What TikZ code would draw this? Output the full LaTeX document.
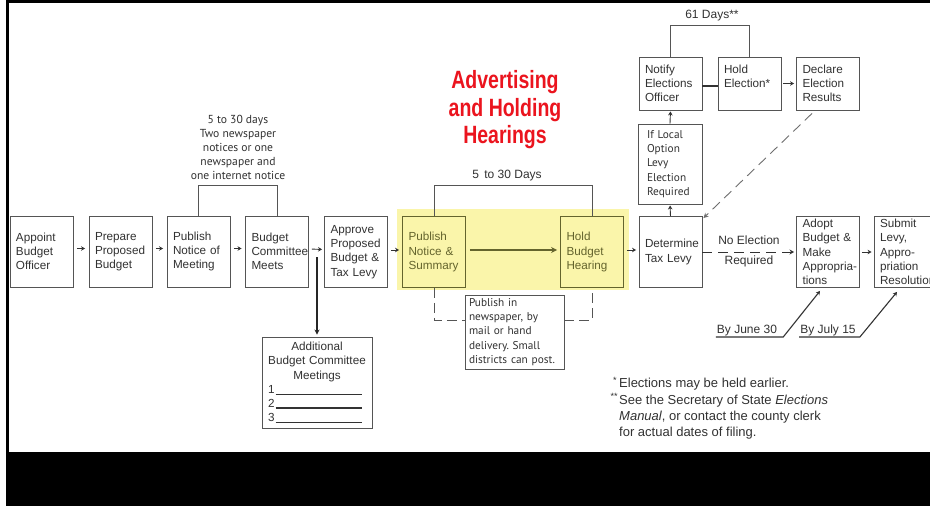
\documentclass[tikz,border=0pt]{standalone}
\usepackage{fontspec}
\setmainfont{Liberation Sans}
\newfontfamily\myr{PT Sans}
\usetikzlibrary{arrows.meta}
\frenchspacing
\definecolor{boxline}{RGB}{85,85,85}
\definecolor{txt}{RGB}{50,50,50}
\definecolor{hly}{RGB}{250,245,170}
\definecolor{olivec}{RGB}{100,100,45}
\definecolor{titlered}{RGB}{235,20,30}
\definecolor{dashgray}{RGB}{110,110,110}
\newcommand\bfnt{\fontsize{11.7}{14.2}\selectfont}
\newcommand\mfnt{\myr\fontsize{11.3}{14.2}\selectfont}
\newcommand\condtxt[1]{\scalebox{0.78}[1]{#1}}
\tikzset{
  box/.style={draw=boxline, line width=0.9pt, text=txt, font=\bfnt, align=left, inner xsep=6pt, inner ysep=2pt},
  std/.style={minimum width=63pt, text width=51pt, minimum height=71pt},
  topbox/.style={minimum width=63pt, text width=51pt, minimum height=53pt},
  hl/.style={fill=hly, draw=olivec, text=olivec},
  arr/.style={-{Stealth[length=4pt,width=4.5pt]}, line width=0.9pt, draw=txt},
  brk/.style={draw=boxline, line width=0.9pt},
  lbl/.style={text=txt, font=\fontsize{12}{14}\selectfont, inner sep=1pt},
}
\begin{document}
\begin{tikzpicture}[x=1pt,y=-1pt]
\useasboundingbox (0,0) rectangle (930,506);
\clip (0,0) rectangle (930,506);
\fill[white] (0,0) rectangle (930,506);
% frame
\fill[black] (6,0) rectangle (930,3);
\fill[black] (6,0) rectangle (9,452);
\fill[black] (6,452) rectangle (930,506);
% highlight
\fill[hly] (397,209) rectangle (629,290);
% title
\node[text=titlered, font=\bfseries\fontsize{25}{27.5}\selectfont, align=center] (title) at (505,110)
  {\condtxt{Advertising}\\\condtxt{and Holding}\\\condtxt{Hearings}};
% main row
\node[box,std] (appoint) at (41.5,251.5) {Appoint\\Budget\\Officer};
\node[box,std] (prepare) at (120.5,251.5) {Prepare\\Proposed\\Budget};
\node[box,std] (pubmeet) at (198.5,251.5) {Publish\\Notice of\\Meeting};
\node[box,std] (budcom) at (277,251.5) {Budget\\Committee\\Meets};
\node[box,std] (approve) at (356,252) {Approve\\Proposed\\Budget \&\\Tax Levy};
\node[box,std,hl] (pubsum) at (434,252) {Publish\\Notice \&\\Summary};
\node[box,std,hl] (hold) at (592,252) {Hold\\Budget\\Hearing};
\node[box,std] (determine) at (670.5,252) {Determine\\Tax Levy};
\node[box,std] (adopt) at (828,252) {Adopt\\Budget \&\\Make\\\mbox{Appropria-}\\tions};
\node[box,std] (submit) at (905.5,252) {Submit\\Levy,\\\mbox{Appro-}\\priation\\\mbox{Resolution}};
% upper row
\node[box, minimum width=64pt, text width=46pt, minimum height=80pt, font=\mfnt] (iflocal) at (670,164) {If Local\\Option\\Levy\\Election\\Required};
\node[box,topbox] (notify) at (670.5,83.5) {Notify\\Elections\\Officer};
\node[box,topbox] (holdel) at (749.5,83.5) {Hold\\Election*\\\mbox{}};
\node[box,topbox] (declare) at (828,83.5) {Declare\\Election\\Results};
% lower boxes
\node[box, minimum width=110pt, text width=98pt, minimum height=91pt, align=center] (additional) at (317,382.5)
  {Additional\\Budget Committee\\Meetings\\
   \makebox[98pt][l]{1\hspace{1pt}\rule[-1pt]{86pt}{0.7pt}}\\
   \makebox[98pt][l]{2\hspace{1pt}\rule[-1pt]{86pt}{1.2pt}}\\
   \makebox[98pt][l]{3\hspace{1pt}\rule[-1pt]{86pt}{1.2pt}}};
\node[box, minimum width=99pt, text width=91pt, minimum height=74pt, inner xsep=4pt, font=\mfnt] (pubin) at (514.5,332)
  {Publish in\\newspaper, by\\mail or hand\\delivery. Small\\districts can post.};
% notes above
\node[text=txt, font=\myr\fontsize{11.6}{14}\selectfont, align=center] (note1) at (238,147)
  {5 to 30 days\\Two newspaper\\notices or one\\newspaper and\\one internet notice};
\node[lbl] (days1) at (507,176) {5\, to 30 Days};
\node[lbl] (days2) at (712,16) {61 Days**};
\node[lbl] (noel) at (749,240) {No Election};
\node[lbl] (req) at (749,261) {Required};
\node[lbl, anchor=south] (june) at (747,337) {By June 30};
\node[lbl, anchor=south] (july) at (828,337) {By July 15};
% footnotes
\node[text=txt, font=\fontsize{13}{16.2}\selectfont, align=left, anchor=north west, inner sep=0pt] (fn) at (605,377)
  {\makebox[14pt][r]{\textsuperscript{*}\hspace{2pt}}Elections may be held earlier.\\
   \makebox[14pt][r]{\textsuperscript{**}\hspace{1pt}}See the Secretary of State \textit{Elections}\\
   \hspace*{14pt}\textit{Manual}, or contact the county clerk\\
   \hspace*{14pt}for actual dates of filing.};
% brackets
\draw[brk] (pubmeet.north) -- ++(0,-30) -| (budcom.north);
\draw[brk] (pubsum.north) -- ++(0,-31) -| (hold.north);
\draw[brk] (notify.north) -- ++(0,-31) -| (holdel.north);
\draw[brk, dash pattern=on 10pt off 5pt] (pubsum.south) |- ([yshift=12pt]pubin.west);
\draw[brk, dash pattern=on 10pt off 5pt] ([yshift=12pt]pubin.east) -| (hold.south);
% arrows main row
\draw[arr, shorten <=3.5pt, shorten >=3.5pt] ([yshift=3pt]appoint.east) -- ([yshift=3pt]prepare.west);
\draw[arr, shorten <=3.5pt, shorten >=3.5pt] ([yshift=3pt]prepare.east) -- ([yshift=3pt]pubmeet.west);
\draw[arr, shorten <=3.5pt, shorten >=3.5pt] ([yshift=3pt]pubmeet.east) -- ([yshift=3pt]budcom.west);
\draw[arr, shorten <=3pt, shorten >=2pt] ([yshift=2.5pt]budcom.east) -- ([yshift=2.5pt]approve.west);
\draw[arr, shorten <=3pt, shorten >=3pt] ([yshift=2pt]approve.east) -- ([yshift=2pt]pubsum.west);
\draw[-{Stealth[length=6pt,width=6pt]}, line width=1.8pt, draw=olivec, shorten <=4pt, shorten >=3pt] ([yshift=2pt]pubsum.east) -- ([yshift=2pt]hold.west);
\draw[arr, shorten <=3pt, shorten >=2.5pt] ([yshift=2pt]hold.east) -- ([yshift=2pt]determine.west);
\draw[arr, shorten <=2pt, shorten >=2pt] (adopt.east) -- (submit.west);
\coordinate (br) at (317,257);
\draw[-{Stealth[length=5pt,width=5pt]}, line width=1.4pt, draw=black!85, shorten >=2pt] (br) -- (additional.north);
% upward chain
\draw[arr, shorten >=1pt] (determine.north) -- (iflocal.south);
\draw[arr, shorten >=1pt] (iflocal.north) -- (notify.south);
\draw[line width=1.4pt, draw=txt] ([yshift=-2.5pt]notify.east) -- ([yshift=-2.5pt]holdel.west);
\draw[arr, shorten <=2pt, shorten >=2pt] (holdel.east) -- (declare.west);
\draw[-{Stealth[length=5pt,width=5pt]}, line width=0.9pt, draw=dashgray, dash pattern=on 10pt off 6pt] ([xshift=-16pt,yshift=-3pt]declare.south) -- ([xshift=1pt,yshift=-2pt]determine.north east);
\draw[-{Stealth[length=4.5pt,width=5pt]}, line width=0.9pt, draw=txt, dash pattern=on 10pt off 6pt, shorten >=2pt] (determine.east) -- (adopt.west);
% deadlines
\draw[arr, line width=1.1pt] (june.south west) -- ([xshift=5pt]june.south east) -- ([xshift=-8pt,yshift=-3pt]adopt.south);
\draw[arr, line width=1.1pt] (july.south west) -- ([xshift=3pt]july.south east) -- ([xshift=-8.5pt,yshift=-4pt]submit.south);
\end{tikzpicture}
\end{document}
